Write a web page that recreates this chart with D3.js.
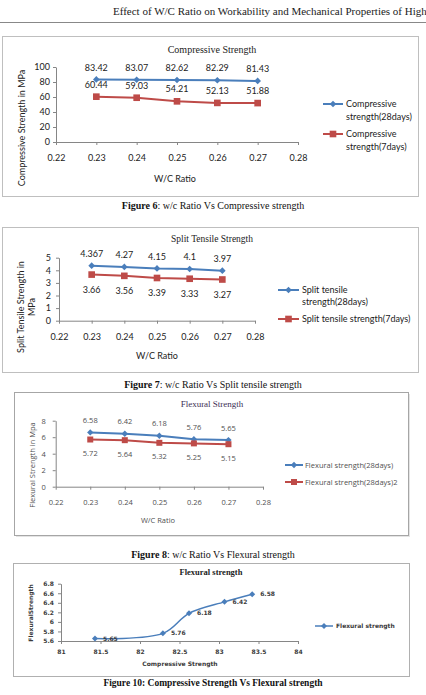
<!DOCTYPE html>
<html>
<head>
<meta charset="utf-8">
<script src="https://cdn.jsdelivr.net/npm/d3@7"></script>
<style>
body { margin: 0; background: #fff; }
svg { display: block; }
</style>
</head>
<body>
<svg id="page" width="426" height="695"></svg>
<script>
// values
const wcRatio = [0.23, 0.24, 0.25, 0.26, 0.27];
const wcTicks = [0.22, 0.23, 0.24, 0.25, 0.26, 0.27, 0.28];

const comp28 = [83.42, 83.07, 82.62, 82.29, 81.43];
const comp7 = [60.44, 59.03, 54.21, 52.13, 51.88];
const compTicks = [0, 20, 40, 60, 80, 100];

const split28 = [4.367, 4.27, 4.15, 4.1, 3.97];
const split7 = [3.66, 3.56, 3.39, 3.33, 3.27];
const splitTicks = [0, 1, 2, 3, 4, 5];

const flex28 = [6.58, 6.42, 6.18, 5.76, 5.65];
const flex7 = [5.72, 5.64, 5.32, 5.25, 5.15];
const flexTicks = [0, 2, 4, 6, 8];

const compXTicks = [81, 81.5, 82, 82.5, 83, 83.5, 84];
const flexYTicks = [5.6, 5.8, 6, 6.2, 6.4, 6.6, 6.8];

const blue = '#4a7ebb';
const red = '#be4b48';

const svg = d3.select('#page');

// running header
svg.append('text')
    .attr('x', 113).attr('y', 15)
    .style('font', '11px "Liberation Serif"')
    .attr('fill', '#222')
    .text('Effect of W/C Ratio on Workability and Mechanical Properties of High');
svg.append('line')
    .attr('x1', 0).attr('x2', 426).attr('y1', 22.5).attr('y2', 22.5)
    .attr('stroke', '#888');

function drawChart(c) {
    const g = svg.append('g');

    if (c.shadow) {
        g.append('rect')
            .attr('x', c.box[0] + 2).attr('y', c.box[1] + 2)
            .attr('width', c.box[2]).attr('height', c.box[3])
            .attr('fill', '#e4e4e4');
    }
    g.append('rect')
        .attr('x', c.box[0] + 0.5).attr('y', c.box[1] + 0.5)
        .attr('width', c.box[2]).attr('height', c.box[3])
        .attr('fill', '#fff')
        .attr('stroke', c.boxColor);

    const clip = 'clip' + c.id;
    g.append('clipPath').attr('id', clip)
        .append('rect')
        .attr('x', c.box[0]).attr('y', c.box[1])
        .attr('width', c.box[2]).attr('height', c.box[3]);
    const inner = g.append('g').attr('clip-path', `url(#${clip})`);

    const x = d3.scaleLinear().domain(c.xDomain).range(c.xRange);
    const y = d3.scaleLinear().domain(c.yDomain).range(c.yRange);

    // title
    inner.append('text')
        .attr('x', c.title.x).attr('y', c.title.y)
        .attr('dy', '0.35em')
        .style('text-anchor', 'middle')
        .style('font', c.title.font)
        .attr('fill', c.title.color || '#222')
        .text(c.title.text);

    // axes
    const yAxis = inner.append('g')
        .attr('transform', `translate(${c.xRange[0]},0)`)
        .call(d3.axisLeft(y).tickValues(c.yTicks).tickFormat(d => String(d))
            .tickSize(3).tickSizeOuter(0).tickPadding(c.yPad));
    const xAxis = inner.append('g')
        .attr('transform', `translate(0,${c.yRange[0]})`)
        .call(d3.axisBottom(x).tickValues(c.xTicks).tickFormat(c.xFormat)
            .tickSize(3).tickSizeOuter(0).tickPadding(c.xPad));

    [xAxis, yAxis].forEach(a => {
        a.select('.domain').attr('stroke', '#868686');
        a.selectAll('.tick line').attr('stroke', '#868686');
        a.selectAll('.tick text')
            .style('font', c.font)
            .attr('fill', c.textColor);
    });

    // axis titles
    inner.append('text')
        .attr('x', c.xTitle.x).attr('y', c.xTitle.y)
        .attr('dy', '0.35em')
        .style('text-anchor', 'middle')
        .style('font', c.font)
        .attr('fill', c.textColor)
        .text(c.xTitle.text);

    const yt = inner.append('text')
        .attr('transform', `translate(${c.yTitle.x},${c.yTitle.y}) rotate(-90)`)
        .style('text-anchor', 'middle')
        .style('font', c.font)
        .attr('fill', c.textColor);
    c.yTitle.lines.forEach((t, i) => {
        yt.append('tspan')
            .attr('x', 0)
            .attr('y', (i - (c.yTitle.lines.length - 1) / 2) * c.yTitle.lh)
            .attr('dy', '0.35em')
            .text(t);
    });

    // series
    c.series.forEach(s => {
        const pts = s.xs.map((v, i) => [v, s.ys[i]]);
        const line = d3.line()
            .x(d => x(d[0]))
            .y(d => y(d[1]));
        if (s.smooth) line.curve(d3.curveCatmullRom);
        const drawn = s.smooth ? pts.slice().sort((a, b) => a[0] - b[0]) : pts;

        inner.append('path')
            .datum(drawn)
            .attr('d', line)
            .attr('fill', 'none')
            .attr('stroke', s.color)
            .attr('stroke-width', s.width);

        inner.selectAll(null)
            .data(pts)
            .join('path')
            .attr('d', d3.symbol(d3.symbolSquare, s.size))
            .attr('transform', d => `translate(${x(d[0])},${y(d[1])}) rotate(${s.marker === 'diamond' ? 45 : 0})`)
            .attr('fill', s.color);

        inner.selectAll(null)
            .data(pts)
            .join('text')
            .attr('x', d => x(d[0]) + s.label.dx)
            .attr('y', d => y(d[1]) + s.label.dy)
            .attr('dy', '0.35em')
            .style('text-anchor', s.label.anchor)
            .style('font', c.font)
            .attr('fill', c.textColor)
            .text(d => String(d[1]));

        // legend entry
        const L = s.legend;
        inner.append('line')
            .attr('x1', c.legend.x1).attr('x2', c.legend.x2)
            .attr('y1', L.y).attr('y2', L.y)
            .attr('stroke', s.color)
            .attr('stroke-width', s.width);
        inner.append('path')
            .attr('d', d3.symbol(d3.symbolSquare, s.size)())
            .attr('transform', `translate(${(c.legend.x1 + c.legend.x2) / 2},${L.y}) rotate(${s.marker === 'diamond' ? 45 : 0})`)
            .attr('fill', s.color);
        const lt = inner.append('text')
            .style('font', c.legendFont || c.font)
            .attr('fill', c.textColor);
        L.lines.forEach((t, i) => {
            lt.append('tspan')
                .attr('x', c.legend.textX)
                .attr('y', L.y + i * c.legend.lh)
                .attr('dy', '0.35em')
                .text(t);
        });
    });
}

function caption(yPos, bold, rest, size) {
    const t = svg.append('text')
        .attr('x', 213).attr('y', yPos)
        .attr('dy', '0.35em')
        .style('text-anchor', 'middle')
        .style('font', `${size}px "Liberation Serif"`)
        .attr('fill', '#111');
    t.append('tspan').style('font-weight', 'bold').text(bold);
    t.append('tspan').text(rest);
}

const calibri = '9px Lato';

// Figure 6
drawChart({
    id: 1,
    box: [2, 36, 416, 160],
    boxColor: '#bfbfbf',
    xDomain: [0.22, 0.28], xRange: [56, 298],
    yDomain: [0, 100], yRange: [142, 67],
    xTicks: wcTicks, yTicks: compTicks,
    xFormat: d3.format('.2f'),
    xPad: 10, yPad: 3,
    font: calibri, textColor: '#222',
    title: { x: 212, y: 49, text: 'Compressive Strength', font: '10px "Liberation Serif"' },
    xTitle: { x: 175, y: 179, text: 'W/C Ratio' },
    yTitle: { x: 22, y: 128, lh: 11, lines: ['Compressive Strength in MPa'] },
    legend: { x1: 323, x2: 343, textX: 346, lh: 13 },
    series: [
        { xs: wcRatio, ys: comp28, color: blue, width: 2, marker: 'diamond', size: 22,
          label: { dx: 0, dy: -12, anchor: 'middle' },
          legend: { y: 104, lines: ['Compressive', 'strength(28days)'] } },
        { xs: wcRatio, ys: comp7, color: red, width: 2, marker: 'square', size: 44,
          label: { dx: 0, dy: -12, anchor: 'middle' },
          legend: { y: 134, lines: ['Compressive', 'strength(7days)'] } }
    ]
});
caption(205, 'Figure 6', ': w/c Ratio Vs Compressive strength', 10);

// Figure 7
drawChart({
    id: 2,
    box: [2, 227, 416, 145],
    boxColor: '#bfbfbf',
    xDomain: [0.22, 0.28], xRange: [59, 255],
    yDomain: [0, 5], yRange: [320.7, 257.7],
    xTicks: wcTicks, yTicks: splitTicks,
    xFormat: d3.format('.2f'),
    xPad: 10, yPad: 5,
    font: calibri, textColor: '#222',
    title: { x: 212, y: 239, text: 'Split Tensile Strength', font: '9.5px "Liberation Serif"' },
    xTitle: { x: 157, y: 356, text: 'W/C Ratio' },
    yTitle: { x: 26.5, y: 307, lh: 11, lines: ['Split Tensile Strength in', 'MPa'] },
    legend: { x1: 278, x2: 299, textX: 302, lh: 11.5 },
    series: [
        { xs: wcRatio, ys: split28, color: blue, width: 2, marker: 'diamond', size: 22,
          label: { dx: 0, dy: -12, anchor: 'middle' },
          legend: { y: 290, lines: ['Split tensile', 'strength(28days)'] } },
        { xs: wcRatio, ys: split7, color: red, width: 2, marker: 'square', size: 44,
          label: { dx: 0, dy: 15, anchor: 'middle' },
          legend: { y: 319, lines: ['Split tensile strength(7days)'] } }
    ]
});
caption(384, 'Figure 7', ':  w/c Ratio Vs Split tensile strength', 10);

// Figure 8
drawChart({
    id: 3,
    box: [14, 392, 394, 143],
    boxColor: '#a6a6a6', shadow: true,
    xDomain: [0.22, 0.28], xRange: [55.7, 263],
    yDomain: [0, 8], yRange: [486.7, 420.7],
    xTicks: wcTicks, yTicks: flexTicks,
    xFormat: d3.format('.2f'),
    xPad: 9.5, yPad: 7,
    font: '7.5px "Open Sans"', textColor: '#505050',
    title: { x: 212, y: 404, text: 'Flexural Strength', font: '9px "Liberation Serif"', color: '#3c2f55' },
    xTitle: { x: 158, y: 520, text: 'W/C Ratio' },
    yTitle: { x: 32, y: 465, lh: 10, lines: ['Flexural Strength in Mpa'] },
    legend: { x1: 285, x2: 303, textX: 305, lh: 10 },
    series: [
        { xs: wcRatio, ys: flex28, color: blue, width: 2, marker: 'diamond', size: 20,
          label: { dx: 0, dy: -12, anchor: 'middle' },
          legend: { y: 465, lines: ['Flexural strength(28days)'] } },
        { xs: wcRatio, ys: flex7, color: red, width: 2, marker: 'square', size: 36,
          label: { dx: 0, dy: 14, anchor: 'middle' },
          legend: { y: 482, lines: ['Flexural strength(28days)2'] } }
    ]
});
caption(554, 'Figure 8', ': w/c Ratio Vs Flexural strength', 10);

// Figure 10
drawChart({
    id: 4,
    box: [13, 563, 396, 113],
    boxColor: '#b0b0b0',
    xDomain: [81, 84], xRange: [61, 298],
    yDomain: [5.6, 6.8], yRange: [641, 583.7],
    xTicks: compXTicks, yTicks: flexYTicks,
    xFormat: d => String(d),
    xPad: 5.5, yPad: 4,
    font: 'bold 6px "DejaVu Sans"', textColor: '#3a3a3a',
    title: { x: 211, y: 572, text: 'Flexural strength', font: 'bold 8.5px "Liberation Serif"' },
    xTitle: { x: 180, y: 664, text: 'Compressive Strength' },
    yTitle: { x: 31, y: 613, lh: 10, lines: ['FlexuralStrength'] },
    legend: { x1: 315, x2: 333, textX: 336, lh: 10 },
    series: [
        { xs: comp28, ys: flex28, color: blue, width: 1.5, marker: 'diamond', size: 18, smooth: true,
          label: { dx: 8, dy: 0, anchor: 'start' },
          legend: { y: 626, lines: ['Flexural strength'] } }
    ]
});
caption(683, 'Figure 10: Compressive Strength Vs Flexural strength', '', 9.5);
</script>
</body>
</html>
